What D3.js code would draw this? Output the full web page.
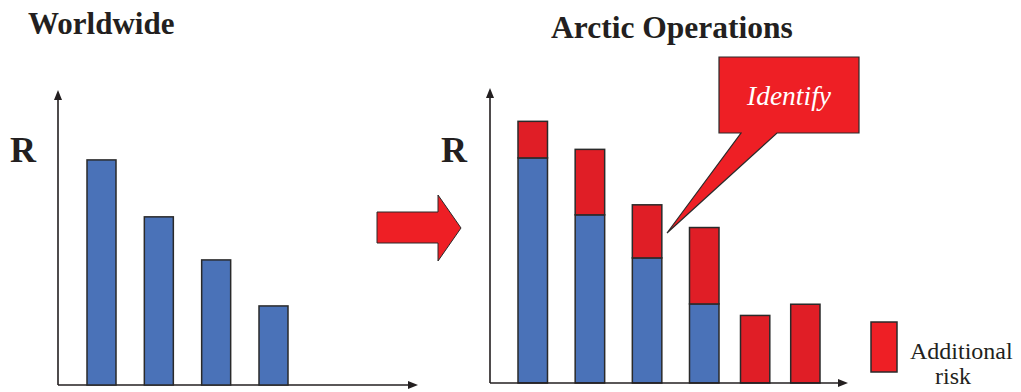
<!DOCTYPE html>
<html>
<head>
<meta charset="utf-8">
<script src="https://cdn.jsdelivr.net/npm/d3@7"></script>
<style>
  html, body { margin: 0; padding: 0; background: #fff; }
  svg { display: block; }
  text { font-family: "Liberation Serif", "Times New Roman", "DejaVu Serif", serif; fill: #231F20; }
</style>
</head>
<body>
<svg id="chart" width="1021" height="392"></svg>
<script>
// ---- data ----
const categories = ["Risk 1", "Risk 2", "Risk 3", "Risk 4"];
const newCategories = ["New risk 1", "New risk 2"];
const worldwideRisk = [76.3, 57.0, 42.4, 26.8];      // R, worldwide (blue)
const arcticAdditional = [12.4, 22.2, 18.0, 25.9];   // extra R in Arctic (red, stacked)
const newArcticRisk = [22.9, 26.7];                  // risks only present in Arctic (red)
const yDomain = [0, 100];

const titles = ["Worldwide", "Arctic Operations"];
const axisLabel = "R";
const calloutText = "Identify";
const legendLines = ["Additional", "risk"];

// ---- style ----
const BLUE = "#4A72B8", RED_BAR = "#E01E26", RED = "#EE1F25", INK = "#231F20", EDGE = "#2A2A2A";

const svg = d3.select("#chart");

function bandScale(domain, start, end, bw) {
  const n = domain.length;
  const step = n > 1 ? (end - start - bw) / (n - 1) : bw;
  const p = 1 - bw / step;
  return d3.scaleBand().domain(domain).range([start, end]).paddingInner(p).paddingOuter(0);
}

function drawAxes(g, x0, x1, y0, y1) {
  g.append("line").attr("x1", x0).attr("x2", x0).attr("y1", y0).attr("y2", y1 + 6)
    .attr("stroke", INK).attr("stroke-width", 1.6);
  g.append("path").attr("d", `M${x0 - 4},${y1 + 10}L${x0},${y1}L${x0 + 4},${y1 + 10}Z`).attr("fill", INK);
  g.append("line").attr("x1", x0).attr("x2", x1 - 6).attr("y1", y0).attr("y2", y0)
    .attr("stroke", INK).attr("stroke-width", 1.6);
  g.append("path").attr("d", `M${x1 - 10},${y0 - 4}L${x1},${y0}L${x1 - 10},${y0 + 4}Z`).attr("fill", INK);
}

// ---- Left panel: Worldwide ----
const yL = d3.scaleLinear().domain(yDomain).range([385, 90]);
const xL = bandScale(categories, 87, 288, 29);
const gL = svg.append("g");
drawAxes(gL, 58, 418, yL(0), yL(100));
gL.selectAll("rect.base").data(categories).join("rect")
  .attr("x", d => xL(d)).attr("width", xL.bandwidth())
  .attr("y", (d, i) => yL(worldwideRisk[i]))
  .attr("height", (d, i) => yL(0) - yL(worldwideRisk[i]))
  .attr("fill", BLUE).attr("stroke", EDGE).attr("stroke-width", 1.5);

svg.append("text").attr("x", 28).attr("y", 34).attr("font-size", 31).attr("font-weight", "bold").text(titles[0]);
svg.append("text").attr("x", 10).attr("y", 162).attr("font-size", 36).attr("font-weight", "bold").text(axisLabel);

// ---- Right panel: Arctic Operations ----
const yR = d3.scaleLinear().domain(yDomain).range([383, 88]);
const xR = bandScale(categories, 518, 719, 29.5);
const xN = bandScale(newCategories, 740.5, 820, 29.3);
const gR = svg.append("g");

const rows = categories.map((c, i) => ({ cat: c, base: worldwideRisk[i], add: arcticAdditional[i] }));
const stacked = d3.stack().keys(["base", "add"])(rows);
const fills = { base: BLUE, add: RED_BAR };
stacked.forEach(layer => {
  gR.selectAll(null).data(layer).join("rect")
    .attr("x", d => xR(d.data.cat)).attr("width", xR.bandwidth())
    .attr("y", d => yR(d[1])).attr("height", d => yR(d[0]) - yR(d[1]))
    .attr("fill", fills[layer.key]).attr("stroke", EDGE).attr("stroke-width", 1.5);
});
gR.selectAll(null).data(newCategories).join("rect")
  .attr("x", d => xN(d)).attr("width", xN.bandwidth())
  .attr("y", (d, i) => yR(newArcticRisk[i]))
  .attr("height", (d, i) => yR(0) - yR(newArcticRisk[i]))
  .attr("fill", RED_BAR).attr("stroke", EDGE).attr("stroke-width", 1.5);
drawAxes(gR, 490, 848, yR(0), yR(100));

svg.append("text").attr("x", 551).attr("y", 38).attr("font-size", 31.5).attr("font-weight", "bold").text(titles[1]);
svg.append("text").attr("x", 441).attr("y", 162).attr("font-size", 36).attr("font-weight", "bold").text(axisLabel);

// ---- Big arrow between panels ----
svg.append("path")
  .attr("d", "M377,212L438,212L438,195L461,228L438,261L438,243L377,243Z")
  .attr("fill", RED).attr("stroke", EDGE).attr("stroke-width", 1);

// ---- Callout ----
svg.append("path")
  .attr("d", "M719,57L859,57L859,133L777,133L667,233L741,133L719,133Z")
  .attr("fill", RED).attr("stroke", EDGE).attr("stroke-width", 1.2).attr("stroke-linejoin", "miter");
svg.append("text").attr("x", 789).attr("y", 105).attr("text-anchor", "middle")
  .attr("font-size", 27.5).attr("font-style", "italic").style("fill", "#fff").text(calloutText);

// ---- Legend ----
svg.append("rect").attr("x", 871).attr("y", 322).attr("width", 26).attr("height", 50)
  .attr("fill", RED).attr("stroke", EDGE).attr("stroke-width", 1.5);
svg.append("text").attr("x", 910).attr("y", 359).attr("font-size", 24).text(legendLines[0]);
svg.append("text").attr("x", 935).attr("y", 384).attr("font-size", 24).text(legendLines[1]);
</script>
</body>
</html>
